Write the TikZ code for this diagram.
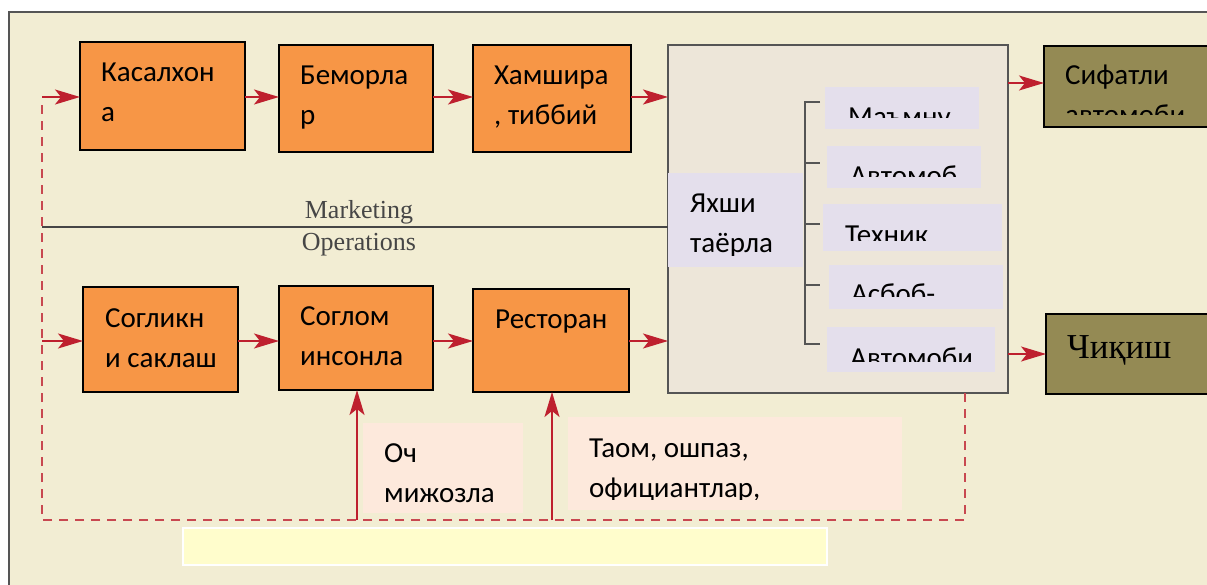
\documentclass[tikz,border=0pt]{standalone}
\usepackage{fontspec}
\setmainfont{Carlito}
\newfontfamily\serifft{Liberation Serif}
\usetikzlibrary{arrows.meta,calc}
\definecolor{bgbeige}{RGB}{242,237,211}
\definecolor{frameg}{RGB}{85,85,85}
\definecolor{orangebox}{RGB}{247,150,70}
\definecolor{arrowred}{RGB}{190,32,46}
\definecolor{dashred}{RGB}{200,72,80}
\definecolor{bigfill}{RGB}{237,230,217}
\definecolor{lavender}{RGB}{228,223,236}
\definecolor{olivebox}{RGB}{148,138,84}
\definecolor{pinkbox}{RGB}{253,233,220}
\definecolor{yellowbox}{RGB}{255,253,204}
\definecolor{mktgray}{RGB}{70,70,70}
\newcommand\pbox[6]{\node[#6, anchor=north west, minimum width=#4-#2, minimum height=#5-#3] (#1) at (#2,#3) {};}
\newcommand\twoline[2]{\vtop{\hbox{#1}\hbox{#2}}}
\begin{document}
\begin{tikzpicture}[x=1pt,y=-1pt,
  boxbase/.style={rectangle, inner sep=0pt, outer sep=0pt},
  orangestyle/.style={boxbase, fill=orangebox, draw=black, line width=1.9pt},
  bigstyle/.style={boxbase, fill=bigfill, draw=frameg, line width=1.5pt},
  lavstyle/.style={boxbase, fill=lavender},
  olivestyle/.style={boxbase, fill=olivebox, draw=black, line width=1.9pt},
  pinkstyle/.style={boxbase, fill=pinkbox},
  yellowstyle/.style={boxbase, fill=yellowbox, draw=white, line width=2pt},
  txt/.style={inner sep=0pt, anchor=base west, font=\fontsize{29}{40}\selectfont},
  serift/.style={inner sep=0pt, anchor=base, text=mktgray, font=\serifft\fontsize{26}{30}\selectfont},
  arr/.style={draw=arrowred, line width=1.8pt, -{Stealth[length=25pt, width=15pt, inset=6pt]}},
  dashline/.style={draw=dashred, line width=1.8pt, dash pattern=on 9pt off 7pt},
  bracket/.style={draw=frameg, line width=1.4pt}]
\clip (0,0) rectangle (1207,585);
\fill[white] (0,0) rectangle (1207,585);
\draw[frameg, fill=bgbeige, line width=1.4pt] (9,12) rectangle (1240,620);

% top row
\pbox{kas}{80}{42}{245}{150}{orangestyle}
\pbox{bem}{279}{45}{433}{152}{orangestyle}
\pbox{ham}{473}{45}{631}{152}{orangestyle}
\node[txt] (kas-t) at (101,82) {\twoline{Касалхон}{а}};
\node[txt] (bem-t) at (300,85) {\twoline{Беморла}{р}};
\node[txt] (ham-t) at (494,85) {\twoline{Хамшира}{, тиббий}};

% bottom row
\pbox{sog}{83}{287}{238}{392}{orangestyle}
\pbox{som}{279}{286}{433}{390}{orangestyle}
\pbox{res}{473}{289}{629}{392}{orangestyle}
\node[txt] (sog-t) at (105,327) {\twoline{Согликн}{и саклаш}};
\node[txt] (som-t) at (300,325) {\twoline{Соглом}{инсонла}};
\node[txt] (res-t) at (495,328) {Ресторан};

% big box
\pbox{big}{668}{45}{1008}{393}{bigstyle}
\pbox{yax}{668}{173}{803}{267}{lavstyle}
\begin{scope}
  \clip (668,173) rectangle (803,256);
  \node[txt] (yax-t) at (690,213) {\twoline{Яхши}{таёрла}};
\end{scope}
\pbox{s1}{825}{87}{979}{129}{lavstyle}
\pbox{s2}{827}{146}{981}{188}{lavstyle}
\pbox{s3}{823}{204}{1002}{251}{lavstyle}
\pbox{s4}{829}{265}{1003}{309}{lavstyle}
\pbox{s5}{827}{327}{995}{372}{lavstyle}
\begin{scope}
  \clip (825,87) rectangle (979,118);
  \node[txt] (s1-t) at (848,127) {Маъмну};
\end{scope}
\begin{scope}
  \clip (827,146) rectangle (981,177);
  \node[txt] (s2-t) at (850,186) {Автомоб};
\end{scope}
\begin{scope}
  \clip (823,204) rectangle (1002,241);
  \node[txt] (s3-t) at (845,245) {Техник};
\end{scope}
\begin{scope}
  \clip (829,265) rectangle (1003,297);
  \node[txt] (s4-t) at (851,304) {Асбоб-};
\end{scope}
\begin{scope}
  \clip (827,327) rectangle (995,361);
  \node[txt] (s5-t) at (850,367) {Автомоби};
\end{scope}
\draw[bracket] (820,102) -- (805,102) -- (805,344) -- (820,344);
\draw[bracket] (805,163) -- (820,163);
\draw[bracket] (805,224) -- (820,224);
\draw[bracket] (805,285) -- (820,285);

% outputs
\pbox{sif}{1044}{46}{1240}{127}{olivestyle}
\begin{scope}
  \clip (1044,46) rectangle (1240,115);
  \node[txt] (sif-t) at (1065,85) {\twoline{Сифатли}{автомоби}};
\end{scope}
\pbox{chq}{1046}{314}{1240}{394}{olivestyle}
\node[txt, font=\serifft\fontsize{35}{40}\selectfont] (chq-t) at (1067,358) {Чиқиш};

% inputs
\pbox{och}{363}{423}{523}{513}{pinkstyle}
\node[txt] (och-t) at (384,462) {\twoline{Оч}{мижозла}};
\pbox{tao}{568}{417}{902}{510}{pinkstyle}
\begin{scope}
  \clip (568,417) rectangle (902,499);
  \node[txt] (tao-t) at (589,457) {\twoline{Таом, ошпаз,}{официантлар,}};
\end{scope}
\pbox{yel}{183}{528}{827}{565}{yellowstyle}

% marketing / operations
\coordinate (mk) at (42,227);
\draw[mktgray, line width=1.2pt] (mk) -- (mk -| big.west);
\node[serift] (mkt) at (359,219) {Marketing};
\node[serift] (ops) at (359,251) {Operations};

% feedback loop
\coordinate (fbTop) at (42,97);
\coordinate (fbMid) at (42,341);
\coordinate (fbBot) at (42,520);
\coordinate (fbR) at (965,520);
\coordinate (up1) at (357,520);
\coordinate (up2) at (552,520);
\draw[dashline] (big.south -| fbR) -- (fbR) -- (fbBot) -- (42,104);
\draw[arr] (fbTop) -- (fbTop -| kas.west);
\draw[arr] (fbMid) -- (fbMid -| sog.west);
\draw[arr] (up1) -- (up1 |- som.south);
\draw[arr] (up2) -- (up2 |- res.south);

% flow arrows
\coordinate (r1) at (0,97);
\coordinate (r2) at (0,341);
\draw[arr] (r1 -| kas.east) -- (r1 -| bem.west);
\draw[arr] (r1 -| bem.east) -- (r1 -| ham.west);
\draw[arr] (r1 -| ham.east) -- (r1 -| big.west);
\draw[arr] (r2 -| sog.east) -- (r2 -| som.west);
\draw[arr] (r2 -| som.east) -- (r2 -| res.west);
\draw[arr] (r2 -| res.east) -- (r2 -| big.west);
\coordinate (o1) at (0,83);
\draw[arr] (o1 -| big.east) -- (o1 -| sif.west);
\draw[arr] (chq.west -| big.east) -- (chq.west);
\end{tikzpicture}
\end{document}
